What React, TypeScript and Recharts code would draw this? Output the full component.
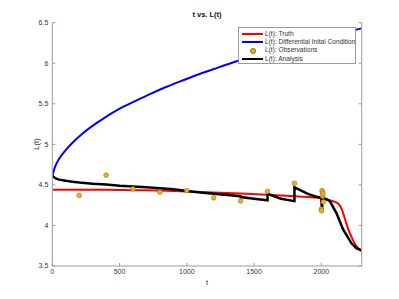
import React from "react";
import { ComposedChart, Line, Scatter, XAxis, YAxis } from "recharts";

// t ticks / L ticks
const tTicks = [0, 500, 1000, 1500, 2000];
const lTicks = [3.5, 4, 4.5, 5, 5.5, 6, 6.5];

// L(t): Truth
const truth = [
  { t: 0, L: 4.44 }, { t: 200, L: 4.44 }, { t: 400, L: 4.44 }, { t: 600, L: 4.435 },
  { t: 800, L: 4.43 }, { t: 1000, L: 4.42 }, { t: 1200, L: 4.405 }, { t: 1400, L: 4.395 },
  { t: 1600, L: 4.38 }, { t: 1800, L: 4.36 }, { t: 2000, L: 4.335 }, { t: 2063, L: 4.31 },
  { t: 2100, L: 4.29 }, { t: 2125, L: 4.27 }, { t: 2150, L: 4.21 }, { t: 2170, L: 4.11 },
  { t: 2187, L: 4.02 }, { t: 2205, L: 3.93 }, { t: 2224, L: 3.86 }, { t: 2250, L: 3.77 },
  { t: 2274, L: 3.72 }, { t: 2300, L: 3.69 },
];

// L(t): Differential Initial Condition
const diffInit = [
  { t: 0, L: 4.61 }, { t: 10, L: 4.67 }, { t: 25, L: 4.74 }, { t: 50, L: 4.82 },
  { t: 100, L: 4.93 }, { t: 150, L: 5.02 }, { t: 230, L: 5.14 }, { t: 354, L: 5.29 },
  { t: 478, L: 5.42 }, { t: 600, L: 5.52 }, { t: 726, L: 5.62 }, { t: 850, L: 5.71 },
  { t: 973, L: 5.79 }, { t: 1100, L: 5.87 }, { t: 1221, L: 5.94 }, { t: 1382, L: 6.03 },
  { t: 1600, L: 6.14 }, { t: 1800, L: 6.23 }, { t: 2000, L: 6.31 }, { t: 2150, L: 6.37 },
  { t: 2300, L: 6.43 },
];

// L(t): Observations
const observations = [
  { t: 200, L: 4.37 }, { t: 400, L: 4.62 }, { t: 600, L: 4.45 }, { t: 800, L: 4.41 },
  { t: 1000, L: 4.43 }, { t: 1200, L: 4.34 }, { t: 1400, L: 4.3 }, { t: 1600, L: 4.42 },
  { t: 1800, L: 4.52 }, { t: 2000, L: 4.2 }, { t: 2002, L: 4.18 }, { t: 2005, L: 4.43 },
  { t: 2008, L: 4.41 }, { t: 2010, L: 4.36 }, { t: 2012, L: 4.39 }, { t: 2015, L: 4.29 },
];

// L(t): Analysis
const analysis = [
  { t: 0, L: 4.61 }, { t: 25, L: 4.58 }, { t: 50, L: 4.565 }, { t: 100, L: 4.55 },
  { t: 150, L: 4.54 }, { t: 200, L: 4.53 }, { t: 300, L: 4.515 }, { t: 400, L: 4.505 },
  { t: 500, L: 4.49 }, { t: 600, L: 4.48 }, { t: 700, L: 4.47 }, { t: 800, L: 4.46 },
  { t: 900, L: 4.445 }, { t: 1000, L: 4.425 }, { t: 1100, L: 4.405 }, { t: 1200, L: 4.39 },
  { t: 1300, L: 4.375 }, { t: 1400, L: 4.36 }, { t: 1400, L: 4.35 }, { t: 1500, L: 4.33 },
  { t: 1600, L: 4.31 }, { t: 1600, L: 4.39 }, { t: 1650, L: 4.36 }, { t: 1700, L: 4.33 },
  { t: 1800, L: 4.3 }, { t: 1800, L: 4.47 }, { t: 1850, L: 4.43 }, { t: 1900, L: 4.39 },
  { t: 1950, L: 4.36 }, { t: 2000, L: 4.34 }, { t: 2004, L: 4.19 }, { t: 2006, L: 4.21 },
  { t: 2008, L: 4.36 }, { t: 2012, L: 4.34 }, { t: 2040, L: 4.32 }, { t: 2063, L: 4.3 },
  { t: 2090, L: 4.22 }, { t: 2113, L: 4.15 }, { t: 2140, L: 4.04 }, { t: 2162, L: 3.95 },
  { t: 2187, L: 3.88 }, { t: 2224, L: 3.78 }, { t: 2260, L: 3.72 }, { t: 2300, L: 3.69 },
];

const FONT = "'Liberation Sans', Arial, Helvetica, sans-serif";
const AXIS = "#9a9a9a";
const TEXT = "#333333";
const OBS_FILL = "#EDB120";
const OBS_EDGE = "#8a6a12";

const legendItems = [
  { label: "L(t): Truth", color: "#ff0000", kind: "line" },
  { label: "L(t): Differential Inital Condition", color: "#0000ff", kind: "line" },
  { label: "L(t): Observations", color: OBS_FILL, kind: "dot" },
  { label: "L(t): Analysis", color: "#000000", kind: "line" },
];

const ObsDot = (props: any) => {
  const { cx, cy } = props;
  if (cx == null || cy == null) return null;
  return <circle cx={cx} cy={cy} r={2.4} fill={OBS_FILL} stroke={OBS_EDGE} strokeWidth={0.5} />;
};

export default function App() {
  const tick = { fontSize: 7, fill: TEXT, fontFamily: FONT };
  return (
    <div style={{ position: "absolute", left: 0, top: 0, width: 399, height: 299, background: "#fff", fontFamily: FONT }}>
      <ComposedChart width={399} height={299} margin={{ top: 22.7, right: 0, bottom: 0, left: 0 }}>
        <XAxis
          dataKey="t"
          type="number"
          domain={[0, 2300]}
          ticks={tTicks}
          allowDataOverflow
          height={33}
          stroke={AXIS}
          tickSize={-3}
          tickMargin={6}
          tick={tick}
        />
        <XAxis
          xAxisId="top"
          orientation="top"
          type="number"
          domain={[0, 2300]}
          ticks={tTicks}
          allowDataOverflow
          height={0}
          stroke={AXIS}
          tickSize={-3}
          tickFormatter={() => ""}
        />
        <YAxis
          type="number"
          domain={[3.5, 6.5]}
          ticks={lTicks}
          allowDataOverflow
          width={52.3}
          stroke={AXIS}
          tickSize={-3}
          tickMargin={7}
          tick={tick}
        />
        <YAxis
          yAxisId="right"
          orientation="right"
          type="number"
          domain={[3.5, 6.5]}
          ticks={lTicks}
          allowDataOverflow
          width={37.3}
          stroke={AXIS}
          tickSize={-3}
          tickFormatter={() => ""}
        />
        <Line data={truth} dataKey="L" type="monotone" stroke="#ff0000" strokeWidth={2} dot={false} isAnimationActive={false} />
        <Line data={diffInit} dataKey="L" type="monotone" stroke="#0000ff" strokeWidth={2} dot={false} isAnimationActive={false} />
        <Scatter data={observations} dataKey="L" shape={ObsDot} isAnimationActive={false} />
        <Line data={analysis} dataKey="L" stroke="#000000" strokeWidth={2.5} dot={false} isAnimationActive={false} />
      </ComposedChart>

      <div style={{ position: "absolute", left: 0, width: 414, top: 10, textAlign: "center", fontSize: 7.5, fontWeight: "bold", color: "#111" }}>
        t vs. L(t)
      </div>
      <div style={{ position: "absolute", left: 0, width: 414, top: 278, textAlign: "center", fontSize: 7.5, color: TEXT }}>
        t
      </div>
      <div style={{ position: "absolute", left: 36, top: 144, transform: "translate(-50%, -50%) rotate(-90deg)", fontSize: 7.5, color: TEXT, whiteSpace: "nowrap" }}>
        L(t)
      </div>

      <div style={{ position: "absolute", left: 238, top: 27.3, width: 116, height: 35, border: `1px solid ${AXIS}`, background: "#fff" }}>
        {legendItems.map((it, i) => (
          <div key={i} style={{ position: "absolute", left: 0, top: 1.8 + i * 8.2, height: 8, width: 116 }}>
            {it.kind === "line" ? (
              <div style={{ position: "absolute", left: 2.7, top: 3, width: 21, height: 2, background: it.color }} />
            ) : (
              <div style={{ position: "absolute", left: 10.7, top: 1.6, width: 4.4, height: 4.4, borderRadius: "50%", background: it.color, border: `0.5px solid ${OBS_EDGE}` }} />
            )}
            <div style={{ position: "absolute", left: 26, top: 0, fontSize: 6.6, lineHeight: "8px", color: TEXT, whiteSpace: "nowrap" }}>
              {it.label}
            </div>
          </div>
        ))}
      </div>
    </div>
  );
}
